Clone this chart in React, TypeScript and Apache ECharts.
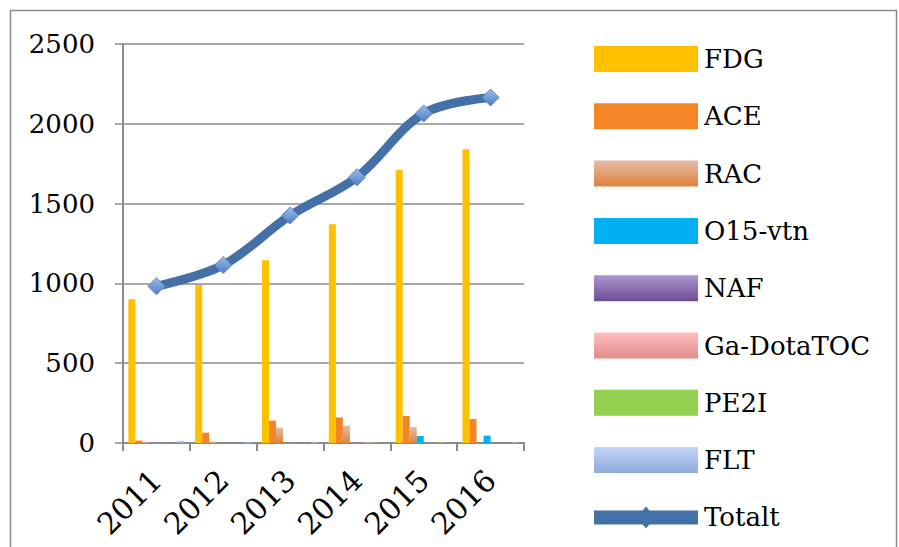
import React, { useEffect, useRef } from "react";
import * as echarts from "echarts";

const years = ["2011", "2012", "2013", "2014", "2015", "2016"];
const fdg = [900, 990, 1145, 1370, 1710, 1840];
const ace = [15, 65, 140, 160, 170, 150];
const rac = [5, 8, 96, 108, 100, 0];
const o15 = [0, 0, 0, 0, 44, 46];
const naf = [3, 0, 3, 4, 0, 0];
const ga = [0, 0, 0, 4, 0, 0];
const pe2i = [0, 0, 0, 3, 4, 0];
const flt = [14, 8, 4, 0, 0, 3];
const totalt = [982, 1115, 1425, 1665, 2065, 2165];
const yTicks = [0, 500, 1000, 1500, 2000, 2500];

const FONT = "DejaVu Serif";

const grad = (top: string, bottom: string) =>
  new echarts.graphic.LinearGradient(0, 0, 0, 1, [
    { offset: 0, color: top },
    { offset: 1, color: bottom },
  ]);

const TOTALT_ICON =
  "path://M0,0L0.1,0L0,0.1Z M0,26L0.1,26L0,25.9Z M0,6H104V20H0Z M52,2L61,13L52,24L43,13Z";

export default function App() {
  const ref = useRef<HTMLDivElement>(null);
  useEffect(() => {
    if (!ref.current) return;
    const chart = echarts.init(ref.current, null, { renderer: "svg" });
    const barSeries = [
      { name: "FDG", data: fdg, color: "#FFC000" },
      { name: "ACE", data: ace, color: "#F38527" },
      { name: "RAC", data: rac, color: grad("#E6BBA8", "#E0823C") },
      { name: "O15-vtn", data: o15, color: "#00B0F0" },
      { name: "NAF", data: naf, color: grad("#AC97D0", "#6E4C95") },
      { name: "Ga-DotaTOC", data: ga, color: grad("#FFBEBE", "#E08C8A") },
      { name: "PE2I", data: pe2i, color: "#92D050" },
      { name: "FLT", data: flt, color: grad("#C2D6FA", "#8EA9DB") },
    ].map((s) => ({
      name: s.name,
      type: "bar",
      data: s.data,
      barGap: "0%",
      barCategoryGap: "16%",
      itemStyle: { color: s.color },
    }));
    chart.setOption({
      animation: false,
      backgroundColor: "#fff",
      textStyle: { fontFamily: FONT },
      graphic: [
        {
          type: "rect",
          shape: { x: 10.5, y: 10.5, width: 886, height: 600 },
          style: { fill: "none", stroke: "#8a8a8a", lineWidth: 1.5 },
          silent: true,
          z: -1,
        },
      ],
      grid: { left: 123, right: 375, top: 44, bottom: 104 },
      legend: {
        orient: "vertical",
        left: 589,
        top: 41,
        itemWidth: 104,
        itemHeight: 26,
        itemGap: 31.3,
        icon: "rect",
        textStyle: { fontFamily: FONT, fontSize: 26, color: "#000", padding: [0, 0, 0, 1] },
        data: [
          "FDG",
          "ACE",
          "RAC",
          "O15-vtn",
          "NAF",
          "Ga-DotaTOC",
          "PE2I",
          "FLT",
          {
            name: "Totalt",
            icon: TOTALT_ICON,
            itemStyle: { color: "#4470A8", borderWidth: 0 },
          },
        ],
      },
      xAxis: {
        type: "category",
        data: years,
        axisLine: { lineStyle: { color: "#8a8a8a", width: 2 } },
        axisTick: { show: true, length: 8, lineStyle: { color: "#8a8a8a", width: 2 } },
        axisLabel: {
          rotate: 45,
          fontFamily: FONT,
          fontSize: 30,
          color: "#000",
          margin: 32,
        },
      },
      yAxis: {
        type: "value",
        min: 0,
        max: 2500,
        interval: 500,
        axisLine: { show: true, lineStyle: { color: "#8a8a8a", width: 2 } },
        axisTick: { show: true, length: 8, lineStyle: { color: "#8a8a8a", width: 1.5 } },
        splitLine: { lineStyle: { color: "#8a8a8a", width: 1.5 } },
        axisLabel: {
          fontFamily: FONT,
          fontSize: 26,
          color: "#000",
          margin: 28,
          formatter: (v: number) => String(v),
          customValues: yTicks,
        },
      },
      series: [
        ...barSeries,
        {
          name: "Totalt",
          type: "line",
          data: totalt,
          smooth: 0.35,
          symbol: "diamond",
          symbolSize: 17,
          lineStyle: { color: "#4470A8", width: 9 },
          itemStyle: {
            color: grad("#9DBDEB", "#4E7CC1"),
            borderColor: "#5B86C5",
            borderWidth: 1,
          },
          z: 5,
        },
      ],
    });
    return () => chart.dispose();
  }, []);
  return (
    <div
      ref={ref}
      style={{ position: "absolute", left: 0, top: 0, width: 899, height: 547 }}
    />
  );
}
